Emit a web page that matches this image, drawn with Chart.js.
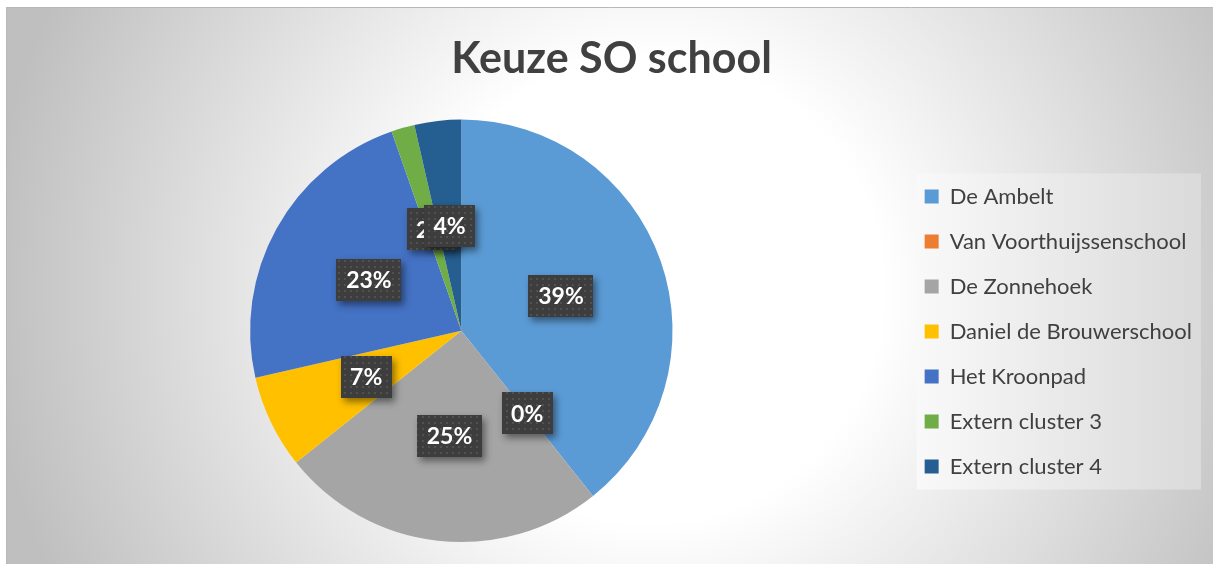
<!DOCTYPE html>
<html>
<head>
<meta charset="utf-8">
<script src="https://cdn.jsdelivr.net/npm/chart.js@4/dist/chart.umd.min.js"></script>
<style>
html,body{margin:0;padding:0;background:#fff;}
canvas{display:block;}
</style>
</head>
<body>
<canvas id="c" width="1213" height="564"></canvas>
<script>
const chartTitle = 'Keuze SO school';
const categories = ['De Ambelt','Van Voorthuijssenschool','De Zonnehoek','Daniel de Brouwerschool','Het Kroonpad','Extern cluster 3','Extern cluster 4'];
const counts = [22, 0, 14, 4, 13, 1, 2];
const sliceColors = ['#5B9BD5','#ED7D31','#A5A5A5','#FFC000','#4472C4','#70AD47','#255E91'];

const FONT = 'Lato, "Open Sans", sans-serif';

const bgPlugin = {
  id: 'bg',
  beforeDraw(chart) {
    const ctx = chart.ctx;
    const W = chart.width, H = chart.height;
    ctx.save();
    ctx.fillStyle = '#ffffff';
    ctx.fillRect(0, 0, W, H);
    const x0 = 6, y0 = 7;
    const g = ctx.createRadialGradient(650, 290, 0, 650, 290, 664);
    g.addColorStop(0, '#ffffff');
    g.addColorStop(0.35, '#ffffff');
    g.addColorStop(1, '#bfbfbf');
    ctx.fillStyle = g;
    ctx.fillRect(x0, y0, W - x0, H - y0);
    ctx.strokeStyle = '#b8b8b8';
    ctx.lineWidth = 1;
    ctx.beginPath();
    ctx.moveTo(x0 + 0.5, H);
    ctx.lineTo(x0 + 0.5, y0 + 0.5);
    ctx.lineTo(W, y0 + 0.5);
    ctx.stroke();
    // legend background
    const lg = chart.legend;
    if (lg && lg.legendHitBoxes && lg.legendHitBoxes.length) {
      const hb = lg.legendHitBoxes;
      const lx = hb[0].left - 8;
      const ly = hb[0].top - 12;
      const lr = lg.right - 1;
      const last = hb[hb.length - 1];
      const lb = last.top + last.height + 12;
      const lgG = ctx.createLinearGradient(lx, 0, lr, 0);
      lgG.addColorStop(0, '#f9f9f9');
      lgG.addColorStop(1, '#dadada');
      ctx.fillStyle = lgG;
      ctx.fillRect(lx, ly, lr - lx, lb - ly);
    }
    ctx.restore();
  }
};

let dotPattern = null;
function getPattern(ctx) {
  if (dotPattern) return dotPattern;
  const pc = document.createElement('canvas');
  pc.width = 6; pc.height = 6;
  const p = pc.getContext('2d');
  p.fillStyle = '#3d3d3d';
  p.fillRect(0, 0, 6, 6);
  p.fillStyle = '#515151';
  p.fillRect(2, 2, 2, 2);
  dotPattern = ctx.createPattern(pc, 'repeat');
  return dotPattern;
}

const labelPlugin = {
  id: 'pctLabels',
  afterDatasetsDraw(chart) {
    const ctx = chart.ctx;
    const meta = chart.getDatasetMeta(0);
    const data = chart.data.datasets[0].data;
    const total = data.reduce((a, b) => a + b, 0);
    ctx.save();
    ctx.font = 'bold 23px ' + FONT;
    meta.data.forEach((arc, i) => {
      const p = arc.getProps(['x','y','startAngle','endAngle','outerRadius'], true);
      const mid = (p.startAngle + p.endAngle) / 2;
      const r = p.outerRadius * 0.5;
      const cx = p.x + Math.cos(mid) * r;
      const cy = p.y + Math.sin(mid) * r;
      const txt = Math.round(data[i] / total * 100) + '%';
      const tw = ctx.measureText(txt).width;
      const bw = Math.round(tw + 19), bh = 42;
      const bx = Math.round(cx - bw / 2), by = Math.round(cy - bh / 2);
      ctx.save();
      ctx.shadowColor = 'rgba(0,0,0,0.45)';
      ctx.shadowBlur = 7;
      ctx.shadowOffsetX = 3;
      ctx.shadowOffsetY = 4;
      ctx.fillStyle = '#3d3d3d';
      ctx.fillRect(bx, by, bw, bh);
      ctx.restore();
      ctx.fillStyle = getPattern(ctx);
      ctx.fillRect(bx, by, bw, bh);
      ctx.fillStyle = '#ffffff';
      ctx.textAlign = 'center';
      ctx.textBaseline = 'middle';
      ctx.fillText(txt, cx, cy + 1);
    });
    ctx.restore();
  }
};

new Chart(document.getElementById('c'), {
  type: 'pie',
  data: {
    labels: categories,
    datasets: [{
      data: counts,
      backgroundColor: sliceColors,
      borderWidth: 0,
      hoverOffset: 0
    }]
  },
  options: {
    responsive: false,
    devicePixelRatio: 1,
    animation: false,
    layout: { padding: { left: 21, right: 11, top: 7, bottom: 22 } },
    plugins: {
      title: {
        display: true,
        text: chartTitle,
        color: '#404040',
        font: { family: FONT, size: 43, weight: 'bold', lineHeight: 1.2 },
        padding: { top: 26, bottom: 35 }
      },
      legend: {
        position: 'right',
        title: {
          display: true,
          text: '',
          font: { family: FONT, size: 10, lineHeight: 1 },
          padding: { top: 0, bottom: 104 }
        },
        labels: {
          boxWidth: 14,
          boxHeight: 14,
          padding: 23,
          color: '#404040',
          font: { family: FONT, size: 22 }
        }
      },
      tooltip: { enabled: false }
    }
  },
  plugins: [bgPlugin, labelPlugin]
});
</script>
</body>
</html>
